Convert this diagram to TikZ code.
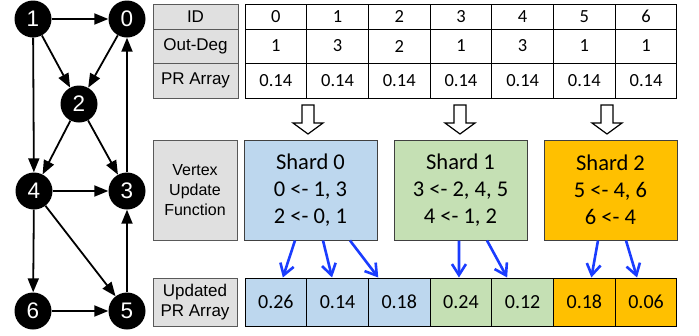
\documentclass[tikz,border=0pt]{standalone}
\usepackage{fontspec}
\setmainfont{Carlito}
\newfontfamily\arialfont{Liberation Sans}
\usetikzlibrary{arrows.meta}

\definecolor{lblgray}{HTML}{E0E0E0}
\definecolor{shardblue}{HTML}{BDD7EE}
\definecolor{shardgreen}{HTML}{C5E0B4}
\definecolor{shardorange}{HTML}{FFC000}
\definecolor{updblue}{HTML}{1A3CFF}

\begin{document}
\begin{tikzpicture}[x=1pt, y=-1pt,
   vtx/.style={circle, fill=black, text=white, minimum size=37pt, inner sep=0pt, font=\arialfont\fontsize{22.5}{22.5}\selectfont},
   edge/.style={-{Triangle[length=14pt,width=11pt]}, line width=1.8pt},
   lbl/.style={draw=black!65, fill=lblgray, line width=0.9pt, minimum width=85pt, inner sep=0pt, align=center, font=\arialfont\fontsize{17}{20}\selectfont},
   cell/.style={draw, line width=1pt, minimum width=61.7pt, inner sep=0pt, font=\fontsize{18.5}{20}\selectfont},
   shard/.style={draw=black!75, line width=1pt, minimum width=133pt, minimum height=100pt, inner sep=0pt, align=center, font=\fontsize{22.5}{27}\selectfont},
   hollow/.style={draw, fill=white, line width=1.2pt, line join=miter},
   upd/.style={updblue, line width=2.6pt, -{Straight Barb[length=11pt,width=14pt]}}]
   \useasboundingbox (0,0) rectangle (699,335);

   % Graph
   \node[vtx] (n1) at (33,19) {1};
   \node[vtx] (n0) at (127,19) {0};
   \node[vtx] (n2) at (79,104) {2};
   \node[vtx] (n4) at (34,191) {4};
   \node[vtx] (n3) at (127,191) {3};
   \node[vtx] (n6) at (33,311) {6};
   \node[vtx] (n5) at (127,311) {5};

   \draw[edge] (n1) -- (n0);
   \draw[edge] (n1) -- (n2);
   \draw[edge] (n1) -- (n4);
   \draw[edge] (n0) -- (n2);
   \draw[edge] (n2) -- (n4);
   \draw[edge] (n2) -- (n3);
   \draw[edge] (n3) -- (n0);
   \draw[edge] (n4) -- (n3);
   \draw[edge] (n4) -- (n5);
   \draw[edge] (n4) -- (n6);
   \draw[edge] (n6) -- (n5);
   \draw[edge] (n5) -- (n3);

   % Table labels
   \node[lbl, minimum height=25pt] (lid) at (195.5,16.5) {ID};
   \node[lbl, minimum height=34pt] (ldeg) at (195.5,46) {Out-Deg};
   \node[lbl, minimum height=35pt] (lpr) at (195.5,80.5) {PR Array};

   % ID row
   \node[cell, minimum height=25pt] (id0) at (275.85,16.5) {0};
   \node[cell, minimum height=25pt] (id1) at (337.55,16.5) {1};
   \node[cell, minimum height=25pt] (id2) at (399.25,16.5) {2};
   \node[cell, minimum height=25pt] (id3) at (460.95,16.5) {3};
   \node[cell, minimum height=25pt] (id4) at (522.65,16.5) {4};
   \node[cell, minimum height=25pt] (id5) at (584.35,16.5) {5};
   \node[cell, minimum height=25pt] (id6) at (646.05,16.5) {6};

   % Out-Deg row
   \node[cell, minimum height=34pt] (d0) at (275.85,46) {1};
   \node[cell, minimum height=34pt] (d1) at (337.55,46) {3};
   \node[cell, minimum height=34pt] (d2) at (399.25,46) {2};
   \node[cell, minimum height=34pt] (d3) at (460.95,46) {1};
   \node[cell, minimum height=34pt] (d4) at (522.65,46) {3};
   \node[cell, minimum height=34pt] (d5) at (584.35,46) {1};
   \node[cell, minimum height=34pt] (d6) at (646.05,46) {1};

   % PR Array row
   \node[cell, minimum height=35pt] (p0) at (275.85,80.5) {0.14};
   \node[cell, minimum height=35pt] (p1) at (337.55,80.5) {0.14};
   \node[cell, minimum height=35pt] (p2) at (399.25,80.5) {0.14};
   \node[cell, minimum height=35pt] (p3) at (460.95,80.5) {0.14};
   \node[cell, minimum height=35pt] (p4) at (522.65,80.5) {0.14};
   \node[cell, minimum height=35pt] (p5) at (584.35,80.5) {0.14};
   \node[cell, minimum height=35pt] (p6) at (646.05,80.5) {0.14};

   % Hollow arrows
   \draw[hollow] (302,105) -- ++(12,0) -- ++(0,18) -- ++(9,0) -- ++(-15,11) -- ++(-15,-11) -- ++(9,0) -- cycle;
   \draw[hollow] (454,105) -- ++(12,0) -- ++(0,18) -- ++(9,0) -- ++(-15,11) -- ++(-15,-11) -- ++(9,0) -- cycle;
   \draw[hollow] (601,105) -- ++(12,0) -- ++(0,18) -- ++(9,0) -- ++(-15,11) -- ++(-15,-11) -- ++(9,0) -- cycle;

   % Shards
   \node[lbl, minimum width=84pt, minimum height=100pt, font=\arialfont\fontsize{16}{20}\selectfont] (lfun) at (195,190) {Vertex\\Update\\Function};
   \node[shard, fill=shardblue] (s0) at (310.5,190) {Shard 0\\0 <- 1, 3\\2 <- 0, 1};
   \node[shard, fill=shardgreen] (s1) at (460.5,190) {Shard 1\\3 <- 2, 4, 5\\4 <- 1, 2};
   \node[shard, fill=shardorange] (s2) at (610.5,190) {Shard 2\\5 <- 4, 6\\6 <- 4};

   % Updated PR Array
   \node[lbl, minimum width=84pt, minimum height=48pt, font=\arialfont\fontsize{17}{20.5}\selectfont] (lupd) at (195,302) {Updated\\PR Array};
   \node[cell, fill=shardblue, minimum height=48pt, font=\fontsize{20}{20}\selectfont] (u0) at (275.85,302) {0.26};
   \node[cell, fill=shardblue, minimum height=48pt, font=\fontsize{20}{20}\selectfont] (u1) at (337.55,302) {0.14};
   \node[cell, fill=shardblue, minimum height=48pt, font=\fontsize{20}{20}\selectfont] (u2) at (399.25,302) {0.18};
   \node[cell, fill=shardgreen, minimum height=48pt, font=\fontsize{20}{20}\selectfont] (u3) at (460.95,302) {0.24};
   \node[cell, fill=shardgreen, minimum height=48pt, font=\fontsize{20}{20}\selectfont] (u4) at (522.65,302) {0.12};
   \node[cell, fill=shardorange, minimum height=48pt, font=\fontsize{20}{20}\selectfont] (u5) at (584.35,302) {0.18};
   \node[cell, fill=shardorange, minimum height=48pt, font=\fontsize{20}{20}\selectfont] (u6) at (646.05,302) {0.06};

   % Shard -> updated value
   \draw[upd] ([xshift=-15.5pt]s0.south) -- ([xshift=7pt]u0.north);
   \draw[upd] ([xshift=12.5pt]s0.south) -- ([xshift=-5.5pt]u1.north);
   \draw[upd] ([xshift=39.5pt]s0.south) -- ([xshift=-21pt]u2.north);
   \draw[upd] ([xshift=-1.5pt]s1.south) -- ([xshift=-2pt]u3.north);
   \draw[upd] ([xshift=26.5pt]s1.south) -- ([xshift=-15.5pt]u4.north);
   \draw[upd] ([xshift=-12.5pt]s2.south) -- ([xshift=7pt]u5.north);
   \draw[upd] ([xshift=15.5pt]s2.south) -- ([xshift=-9pt]u6.north);
\end{tikzpicture}
\end{document}
